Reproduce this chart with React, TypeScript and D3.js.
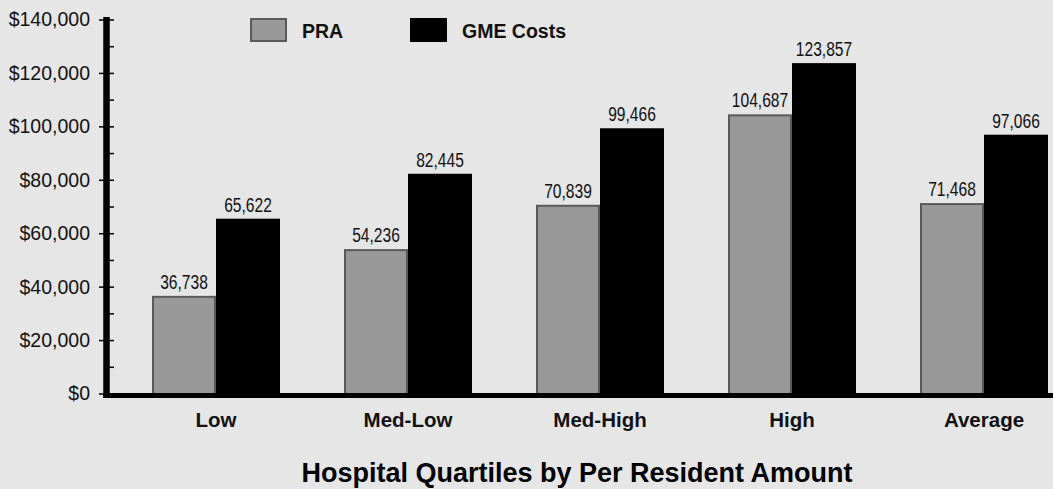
import React from "react";
import * as d3 from "d3";

const categories = ["Low", "Med-Low", "Med-High", "High", "Average"];
const seriesNames = ["PRA", "GME Costs"];
const praValues = [36738, 54236, 70839, 104687, 71468];
const gmeValues = [65622, 82445, 99466, 123857, 97066];
const yTicks = [0, 20000, 40000, 60000, 80000, 100000, 120000, 140000];
const yMinorTicks = [10000, 30000, 50000, 70000, 90000, 110000, 130000];
const xTitle = "Hospital Quartiles by Per Resident Amount";

const W = 1053;
const H = 489;
const BG = "#e6e6e6";
const GRAY = "#999999";
const GRAY_STROKE = "#5a5a5a";

export default function App() {
  const y = d3.scaleLinear().domain([0, 140000]).range([394, 20]);
  const x0 = d3
    .scaleBand<string>()
    .domain(categories)
    .range([120, 1080])
    .paddingInner(1 / 3)
    .paddingOuter(1 / 6);
  const x1 = d3.scaleBand<string>().domain(seriesNames).range([0, x0.bandwidth()]);
  const fmt = d3.format(",");
  const money = (v: number) => "$" + d3.format(",")(v);

  const series = [
    { name: "PRA", values: praValues, fill: GRAY, stroke: GRAY_STROKE },
    { name: "GME Costs", values: gmeValues, fill: "#000000", stroke: "#000000" },
  ];

  const axisX = 106.5;
  const base = y(0);

  return (
    <svg
      width={W}
      height={H}
      style={{ position: "absolute", left: 0, top: 0, display: "block" }}
    >
      <rect x={0} y={0} width={W} height={H} fill={BG} />

      {/* bars */}
      {series.map((s) =>
        categories.map((c, i) => {
          const bx = (x0(c) as number) + (x1(s.name) as number);
          const bw = x1.bandwidth();
          const top = y(s.values[i]);
          return (
            <g key={s.name + c}>
              <rect
                x={bx + 1}
                y={top + 1}
                width={bw - 2}
                height={base - top - 1}
                fill={s.fill}
                stroke={s.stroke}
                strokeWidth={2}
              />
              <g transform={`translate(${bx + bw / 2},${top - 7}) scale(0.8,1)`}>
                <text
                  x={0}
                  y={0}
                  textAnchor="middle"
                  fontFamily="'Liberation Sans', Arial, sans-serif"
                  fontSize={19.5}
                  fill="#111"
                >
                  {fmt(s.values[i])}
                </text>
              </g>
            </g>
          );
        })
      )}

      {/* y axis */}
      <line x1={axisX} x2={axisX} y1={17} y2={398} stroke="#000" strokeWidth={6.5} />
      {yTicks.map((t) => (
        <g key={"t" + t}>
          <line x1={99} x2={114} y1={y(t)} y2={y(t)} stroke="#000" strokeWidth={1.5} />
          <text
            x={90}
            y={y(t)}
            dy="0.33em"
            textAnchor="end"
            fontFamily="'Liberation Sans', Arial, sans-serif"
            fontSize={19.5}
            fill="#111"
          >
            {money(t)}
          </text>
        </g>
      ))}
      {yMinorTicks.map((t) => (
        <line key={"m" + t} x1={109} x2={114} y1={y(t)} y2={y(t)} stroke="#000" strokeWidth={1.5} />
      ))}

      {/* x axis */}
      <line x1={103} x2={W} y1={395.5} y2={395.5} stroke="#000" strokeWidth={5} />
      {categories.map((c) => (
        <text
          key={"c" + c}
          x={(x0(c) as number) + x0.bandwidth() / 2}
          y={427}
          textAnchor="middle"
          fontFamily="'Liberation Sans', Arial, sans-serif"
          fontWeight="bold"
          fontSize={20.5}
          fill="#111"
        >
          {c}
        </text>
      ))}

      {/* legend */}
      {series.map((s, i) => {
        const lx = 250 + i * 160;
        return (
          <g key={"l" + s.name}>
            <rect
              x={lx + 1}
              y={19}
              width={35}
              height={22}
              fill={s.fill}
              stroke={s.stroke}
              strokeWidth={2}
            />
            <text
              x={lx + 52}
              y={38}
              fontFamily="'Liberation Sans', Arial, sans-serif"
              fontWeight="bold"
              fontSize={19.5}
              fill="#111"
            >
              {s.name}
            </text>
          </g>
        );
      })}

      {/* title */}
      <text
        x={577}
        y={482}
        textAnchor="middle"
        fontFamily="'Liberation Sans', Arial, sans-serif"
        fontWeight="bold"
        fontSize={27}
        fill="#000"
      >
        {xTitle}
      </text>
    </svg>
  );
}
